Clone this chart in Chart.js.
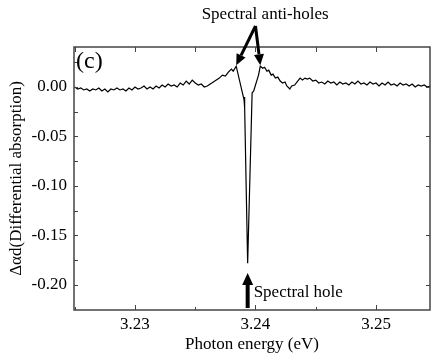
<!DOCTYPE html>
<html>
<head>
<meta charset="utf-8">
<script src="https://cdn.jsdelivr.net/npm/chart.js@4.4.1/dist/chart.umd.min.js"></script>
<style>
  html, body { margin: 0; padding: 0; background: #fff; }
  #wrap { width: 432px; height: 355px; }
</style>
</head>
<body>
<div id="wrap"><canvas id="holeChart"></canvas></div>
<script>
// Photon energy (eV) and differential absorption
const energy = [
  3.22500, 3.22525, 3.22550, 3.22575, 3.22600, 3.22625, 3.22650, 3.22675, 3.22700, 3.22725,
  3.22750, 3.22775, 3.22800, 3.22825, 3.22850, 3.22875, 3.22900, 3.22925, 3.22950, 3.22975,
  3.23000, 3.23025, 3.23050, 3.23075, 3.23100, 3.23125, 3.23150, 3.23175, 3.23200, 3.23225,
  3.23250, 3.23275, 3.23300, 3.23325, 3.23350, 3.23375, 3.23400, 3.23425, 3.23450, 3.23475,
  3.23500, 3.23525, 3.23550, 3.23575, 3.23600, 3.23625, 3.23650, 3.23675, 3.23700, 3.23725,
  3.23750, 3.23775, 3.23800, 3.23815, 3.23840,
  3.23905, 3.23908, 3.23912, 3.23935, 3.23972, 3.23985, 3.24000, 3.24015, 3.24025, 3.24040,
  3.24060, 3.24075, 3.24095, 3.24110, 3.24130, 3.24145, 3.24165, 3.24185, 3.24205, 3.24225,
  3.24245, 3.24260, 3.24285, 3.24300, 3.24325, 3.24350, 3.24370, 3.24390, 3.24410, 3.24430,
  3.24450, 3.24475, 3.24500, 3.24525, 3.24550, 3.24575, 3.24600, 3.24625, 3.24650, 3.24675,
  3.24700, 3.24725, 3.24750, 3.24775, 3.24800, 3.24825, 3.24850, 3.24875, 3.24900, 3.24925,
  3.24950, 3.24975, 3.25000, 3.25025, 3.25050, 3.25075, 3.25100, 3.25125, 3.25150, 3.25175,
  3.25200, 3.25225, 3.25250, 3.25275, 3.25300, 3.25325, 3.25350, 3.25375, 3.25400, 3.25425,
  3.25450
];
const absorption = [
  0.000, -0.002, -0.001, -0.003, -0.002, -0.004, -0.002, -0.003, -0.001, -0.004,
  -0.002, -0.005, -0.002, -0.003, -0.001, -0.003, -0.002, -0.004, -0.001, -0.003,
  0.000, -0.002, -0.001, 0.001, -0.002, 0.000, -0.002, 0.001, -0.001, 0.002,
  0.000, 0.003, 0.001, 0.002, 0.000, 0.004, 0.002, 0.006, 0.003, 0.007,
  0.004, 0.002, 0.003, 0.000, 0.001, 0.003, 0.005, 0.007, 0.009, 0.012,
  0.011, 0.015, 0.018, 0.016, 0.021,
  -0.013, -0.010, -0.021, -0.178, -0.006, -0.004, 0.002, 0.008, 0.012, 0.021,
  0.019, 0.020, 0.016, 0.017, 0.012, 0.013, 0.009, 0.010, 0.006, 0.004,
  0.005, 0.001, -0.002, 0.001, 0.002, 0.006, 0.009, 0.007, 0.009, 0.008,
  0.009, 0.006, 0.007, 0.004, 0.005, 0.003, 0.006, 0.004, 0.005, 0.002,
  0.005, 0.003, 0.004, 0.002, 0.005, 0.003, 0.006, 0.003, 0.004, 0.002,
  0.005, 0.003, 0.004, 0.001, 0.004, 0.002, 0.005, 0.002, 0.003, 0.001,
  0.004, 0.002, 0.003, 0.001, 0.003, 0.000, 0.002, 0.001, 0.002, 0.000,
  0.001
];

// Tick values
const xTicks = [3.23, 3.24, 3.25];
const xMinorTicks = [3.225, 3.235, 3.245];
const yTicks = [0.00, -0.05, -0.10, -0.15, -0.20];
const yMinorTicks = [0.025, -0.025, -0.075, -0.125, -0.175];

// Annotated features
const antiHoleEnergy = [3.2384, 3.2404];
const antiHoleValue = [0.021, 0.021];
const holeEnergy = 3.23935;

const serif = '"Liberation Serif", "DejaVu Serif", serif';

function arrow(ctx, x0, y0, x1, y1, shaft, headLen, headW) {
  const ang = Math.atan2(y1 - y0, x1 - x0);
  const bx = x1 - Math.cos(ang) * headLen, by = y1 - Math.sin(ang) * headLen;
  ctx.lineWidth = shaft;
  ctx.beginPath();
  ctx.moveTo(x0, y0);
  ctx.lineTo(bx, by);
  ctx.stroke();
  ctx.beginPath();
  ctx.moveTo(x1, y1);
  ctx.lineTo(bx + Math.sin(ang) * headW / 2, by - Math.cos(ang) * headW / 2);
  ctx.lineTo(bx - Math.sin(ang) * headW / 2, by + Math.cos(ang) * headW / 2);
  ctx.closePath();
  ctx.fill();
}

// box around the plot, inward ticks and the labels
const framePlugin = {
  id: 'frame',
  afterDraw(chart) {
    const { ctx, chartArea: a, scales: { x, y } } = chart;
    ctx.save();
    ctx.strokeStyle = '#444';
    ctx.lineWidth = 1.5;
    ctx.strokeRect(a.left, a.top, a.right - a.left, a.bottom - a.top);

    ctx.lineWidth = 1;
    ctx.beginPath();
    xTicks.forEach(v => {
      const px = Math.round(x.getPixelForValue(v)) + 0.5;
      ctx.moveTo(px, a.bottom); ctx.lineTo(px, a.bottom - 5);
      ctx.moveTo(px, a.top); ctx.lineTo(px, a.top + 5);
    });
    xMinorTicks.forEach(v => {
      const px = Math.round(x.getPixelForValue(v)) + 0.5;
      ctx.moveTo(px, a.bottom); ctx.lineTo(px, a.bottom - 3);
      ctx.moveTo(px, a.top); ctx.lineTo(px, a.top + 5);
    });
    yTicks.forEach(v => {
      const py = Math.round(y.getPixelForValue(v)) + 0.5;
      ctx.moveTo(a.left, py); ctx.lineTo(a.left + 4, py);
      ctx.moveTo(a.right, py); ctx.lineTo(a.right - 4, py);
    });
    yMinorTicks.forEach(v => {
      const py = Math.round(y.getPixelForValue(v)) + 0.5;
      ctx.moveTo(a.left, py); ctx.lineTo(a.left + 4, py);
    });
    ctx.stroke();

    // panel letter
    ctx.fillStyle = '#000';
    ctx.font = '24px ' + serif;
    ctx.textBaseline = 'middle';
    ctx.textAlign = 'left';
    ctx.fillText('(c)', a.left + 2, 62);

    // anti-hole arrows
    ctx.strokeStyle = '#000';
    ctx.font = '17px ' + serif;
    ctx.textAlign = 'center';
    ctx.fillText('Spectral anti-holes', x.getPixelForValue(3.2408), 15);
    const sx = x.getPixelForValue(3.2400), sy = 26;
    antiHoleEnergy.forEach((e, i) => {
      arrow(ctx, sx, sy, x.getPixelForValue(e), y.getPixelForValue(antiHoleValue[i]) - 1, 3, 11, 10);
    });

    // hole arrow
    const hx = x.getPixelForValue(holeEnergy);
    arrow(ctx, hx, a.bottom - 2, hx, 273, 4, 12, 11);
    ctx.textAlign = 'left';
    ctx.fillText('Spectral hole', hx + 6, 293);
    ctx.restore();
  }
};

const ctx = document.getElementById('holeChart').getContext('2d');
new Chart(ctx, {
  type: 'scatter',
  data: {
    datasets: [{
      data: energy.map((e, i) => ({ x: e, y: absorption[i] })),
      showLine: true,
      borderColor: '#000',
      borderWidth: 1.2,
      pointRadius: 0,
      tension: 0
    }]
  },
  options: {
    responsive: true,
    maintainAspectRatio: false,
    animation: false,
    layout: { padding: { top: 47, right: 2, left: 0, bottom: 0 } },
    plugins: { legend: { display: false }, tooltip: { enabled: false } },
    scales: {
      x: {
        type: 'linear',
        min: 3.22494,
        max: 3.25448,
        grid: { display: false, drawTicks: false },
        border: { display: false },
        afterBuildTicks: s => { s.ticks = xTicks.map(v => ({ value: v })); },
        afterFit: s => { s.height = 45; },
        ticks: {
          color: '#000',
          padding: 4,
          font: { family: serif, size: 17 },
          callback: v => v.toFixed(2)
        },
        title: {
          display: true,
          text: 'Photon energy (eV)',
          color: '#000',
          font: { family: serif, size: 17 },
          padding: { top: 0, bottom: 0 }
        }
      },
      y: {
        min: -0.2253,
        max: 0.0404,
        grid: { display: false, drawTicks: false },
        border: { display: false },
        afterBuildTicks: s => { s.ticks = yTicks.map(v => ({ value: v })); },
        afterFit: s => { s.width = 74; },
        ticks: {
          color: '#000',
          padding: 7,
          font: { family: serif, size: 17 },
          callback: v => v.toFixed(2)
        },
        title: {
          display: true,
          text: 'Δαd(Differential absorption)',
          color: '#000',
          font: { family: serif, size: 17 },
          padding: { top: 6, bottom: 0 }
        }
      }
    }
  },
  plugins: [framePlugin]
});
</script>
</body>
</html>
